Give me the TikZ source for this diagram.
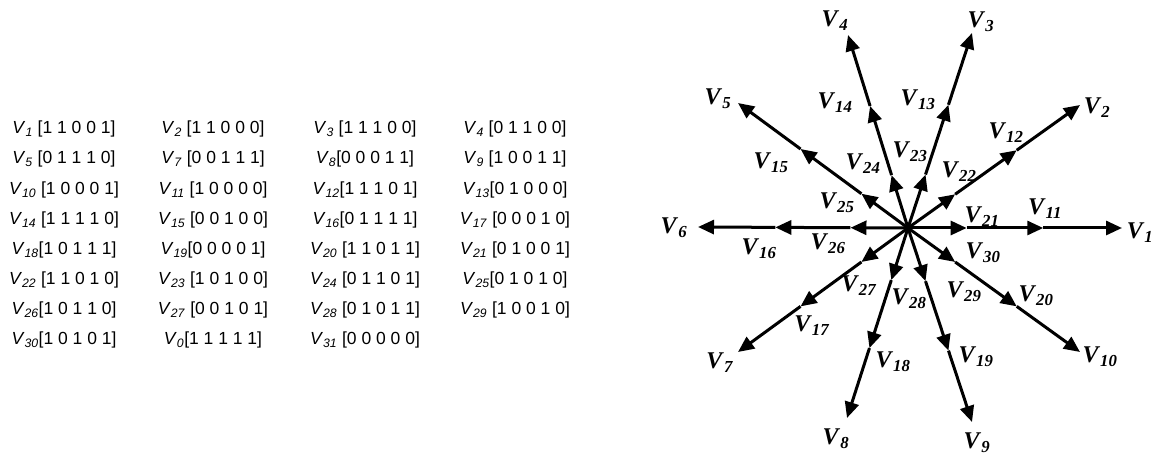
\documentclass[tikz,border=0pt]{standalone}
\usepackage{fontspec}
\setmainfont{Liberation Serif}
\setsansfont{Liberation Sans}
\usetikzlibrary{arrows.meta,calc}

\newcommand{\Vn}[1]{\textit{V}\textsubscript{\textit{#1}}}

\begin{document}
\begin{tikzpicture}[x=1pt,y=1pt]
\tikzset{
  code/.style={font=\sffamily\fontsize{17.5}{20}\selectfont,inner sep=0pt},
  vlabel/.style={font=\bfseries\fontsize{24}{26}\selectfont,inner sep=0pt},
  spoke/.style={line width=3pt,-{Triangle[length=16pt,width=14pt]}}
}
\useasboundingbox (0,0) rectangle (1155,457);

%TABLE OF SWITCHING STATES
\node[code] (c1)  at (64,328)  {\Vn{1} [1 1 0 0 1]};
\node[code] (c2)  at (213,328) {\Vn{2} [1 1 0 0 0]};
\node[code] (c3)  at (365,328) {\Vn{3} [1 1 1 0 0]};
\node[code] (c4)  at (515,328) {\Vn{4} [0 1 1 0 0]};
\node[code] (c5)  at (64,298)  {\Vn{5} [0 1 1 1 0]};
\node[code] (c7)  at (213,298) {\Vn{7} [0 0 1 1 1]};
\node[code] (c8)  at (365,298) {\Vn{8}[0 0 0 1 1]};
\node[code] (c9)  at (515,298) {\Vn{9} [1 0 0 1 1]};
\node[code] (c10) at (64,267)  {\Vn{10} [1 0 0 0 1]};
\node[code] (c11) at (213,267) {\Vn{11} [1 0 0 0 0]};
\node[code] (c12) at (365,267) {\Vn{12}[1 1 1 0 1]};
\node[code] (c13) at (515,267) {\Vn{13}[0 1 0 0 0]};
\node[code] (c14) at (64,237)  {\Vn{14} [1 1 1 1 0]};
\node[code] (c15) at (213,237) {\Vn{15} [0 0 1 0 0]};
\node[code] (c16) at (365,237) {\Vn{16}[0 1 1 1 1]};
\node[code] (c17) at (515,237) {\Vn{17} [0 0 0 1 0]};
\node[code] (c18) at (64,207)  {\Vn{18}[1 0 1 1 1]};
\node[code] (c19) at (213,207) {\Vn{19}[0 0 0 0 1]};
\node[code] (c20) at (365,207) {\Vn{20} [1 1 0 1 1]};
\node[code] (c21) at (515,207) {\Vn{21} [0 1 0 0 1]};
\node[code] (c22) at (64,177)  {\Vn{22} [1 1 0 1 0]};
\node[code] (c23) at (213,177) {\Vn{23} [1 0 1 0 0]};
\node[code] (c24) at (365,177) {\Vn{24} [0 1 1 0 1]};
\node[code] (c25) at (515,177) {\Vn{25}[0 1 0 1 0]};
\node[code] (c26) at (64,147)  {\Vn{26}[1 0 1 1 0]};
\node[code] (c27) at (213,147) {\Vn{27} [0 0 1 0 1]};
\node[code] (c28) at (365,147) {\Vn{28} [0 1 0 1 1]};
\node[code] (c29) at (515,147) {\Vn{29} [1 0 0 1 0]};
\node[code] (c30) at (64,117)  {\Vn{30}[1 0 1 0 1]};
\node[code] (c0)  at (213,117) {\Vn{0}[1 1 1 1 1]};
\node[code] (c31) at (365,117) {\Vn{31} [0 0 0 0 0]};

%SPACE VECTOR STAR
\coordinate (O) at (908,229);
%%outer vectors
\foreach \k/\x/\y/\lx/\ly in {1/1122/229/1140/224, 2/1080/352/1097/349,
    3/972/424/981/435, 4/848/422/835/436, 5/738/354/718/358,
    6/698/230/674/229, 7/738/105/720/94, 8/847/39/836/18,
    9/972/35/977/14, 10/1080/105/1100/100}{
  \coordinate (t\k) at (\x,\y);
  \coordinate (m\k) at ($(O)!0.632!(t\k)$);
  \coordinate (i\k) at ($(O)!0.274!(t\k)$);
  \node[vlabel] (lt\k) at (\lx,\ly) {\Vn{\k}};
}
\foreach \k in {1,...,10}{
  \draw[spoke] (O) -- (i\k);
  \draw[spoke] (i\k) -- (m\k);
  \draw[spoke] (m\k) -- (t\k);
}
%%middle labels
\foreach \k/\x/\y in {11/1045/248, 12/1006/324, 13/918/357, 14/835/354,
    15/771/294, 16/759/208, 17/812/131, 18/893/95, 19/976/100, 20/1036/161}
  \node[vlabel] (lm\k) at (\x,\y) {\Vn{\k}};
%%inner labels
\foreach \k/\x/\y in {21/982/240, 22/959/285, 23/910/305, 24/863/293,
    25/837/254, 26/828/213, 27/859/171, 28/909/158, 29/964/165, 30/983/204}
  \node[vlabel] (li\k) at (\x,\y) {\Vn{\k}};

\end{tikzpicture}
\end{document}
